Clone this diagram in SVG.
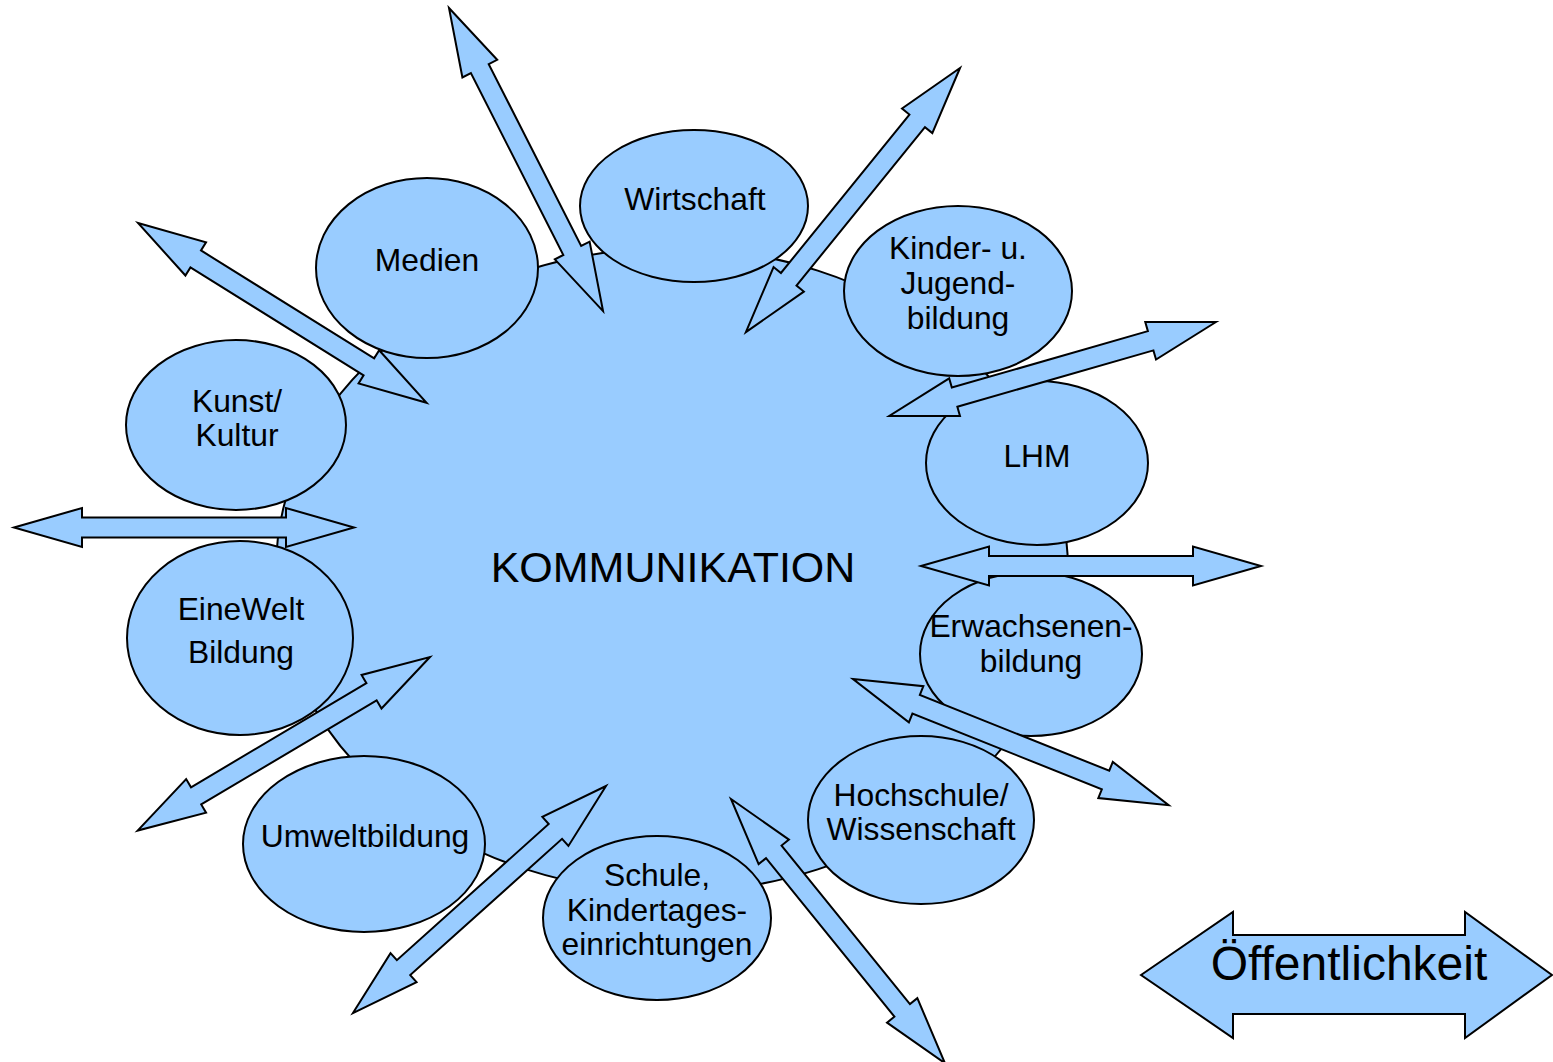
<svg xmlns="http://www.w3.org/2000/svg" xmlns:xlink="http://www.w3.org/1999/xlink" width="1553" height="1062" viewBox="0 0 1553 1062">
<style>
.shape{fill:#99ccff;stroke:#000;stroke-width:2}
.arr{fill:#99ccff;stroke:#000;stroke-width:2;stroke-linejoin:miter}
.lbl{font-family:"Liberation Sans",Arial,sans-serif;font-size:31.8px;fill:#000;text-anchor:middle}
.big{font-family:"Liberation Sans",Arial,sans-serif;font-size:43px;fill:#000;text-anchor:middle}
.pub{font-family:"Liberation Sans",Arial,sans-serif;font-size:48px;fill:#000;text-anchor:middle}
</style>
<defs>
<polygon id="dbl" points="0,0 68,-19.5 68,-10 272,-10 272,-19.5 340,0 272,19.5 272,10 68,10 68,19.5"/>
</defs>
<rect width="1553" height="1062" fill="#fff"/>
<g id="kommunikation">
<ellipse class="shape" cx="672" cy="570" rx="396" ry="322"/>
<text class="big" x="673" y="582">KOMMUNIKATION</text>
</g>
<g id="medien"><ellipse class="shape" cx="427" cy="268" rx="111" ry="90"/><text class="lbl" x="427" y="271">Medien</text></g>
<g id="wirtschaft"><ellipse class="shape" cx="694" cy="206" rx="114" ry="76"/><text class="lbl" x="695" y="210">Wirtschaft</text></g>
<g id="kinder"><ellipse class="shape" cx="958" cy="291" rx="114" ry="85"/><text class="lbl" x="958" y="259">Kinder- u.</text><text class="lbl" x="958" y="294">Jugend-</text><text class="lbl" x="958" y="329">bildung</text></g>
<g id="lhm"><ellipse class="shape" cx="1037" cy="463" rx="111" ry="82"/><text class="lbl" x="1037" y="467">LHM</text></g>
<g id="erwachsenen"><ellipse class="shape" cx="1031" cy="654" rx="111" ry="82"/><text class="lbl" x="1031" y="637">Erwachsenen-</text><text class="lbl" x="1031" y="672">bildung</text></g>
<g id="hochschule"><ellipse class="shape" cx="921" cy="820" rx="113" ry="84"/><text class="lbl" x="921" y="806">Hochschule/</text><text class="lbl" x="921" y="840">Wissenschaft</text></g>
<g id="schule"><ellipse class="shape" cx="657" cy="918" rx="114" ry="82"/><text class="lbl" x="657" y="886">Schule,</text><text class="lbl" x="657" y="921">Kindertages-</text><text class="lbl" x="657" y="955">einrichtungen</text></g>
<g id="umwelt"><ellipse class="shape" cx="364" cy="844" rx="121" ry="88"/><text class="lbl" x="365" y="847">Umweltbildung</text></g>
<g id="einewelt"><ellipse class="shape" cx="240" cy="638" rx="113" ry="97"/><text class="lbl" x="241" y="620">EineWelt</text><text class="lbl" x="241" y="663">Bildung</text></g>
<g id="kunst"><ellipse class="shape" cx="236" cy="425" rx="110" ry="85"/><text class="lbl" x="237" y="412">Kunst/</text><text class="lbl" x="237" y="446">Kultur</text></g>
<g id="connectors">
<use xlink:href="#dbl" class="arr" transform="translate(449,8) rotate(63.06)"/>
<use xlink:href="#dbl" class="arr" transform="translate(138,223) rotate(31.92)"/>
<use xlink:href="#dbl" class="arr" transform="translate(960,68) rotate(129.03)"/>
<use xlink:href="#dbl" class="arr" transform="translate(1216,322) rotate(163.96)"/>
<use xlink:href="#dbl" class="arr" transform="translate(14,527.5)"/>
<use xlink:href="#dbl" class="arr" transform="translate(921,566)"/>
<use xlink:href="#dbl" class="arr" transform="translate(853,679) rotate(21.8)"/>
<use xlink:href="#dbl" class="arr" transform="translate(731,799) rotate(51.0)"/>
<use xlink:href="#dbl" class="arr" transform="translate(606,786) rotate(138.1)"/>
<use xlink:href="#dbl" class="arr" transform="translate(430,657) rotate(149.3)"/>
</g>
<g id="oeffentlichkeit">
<polygon class="arr" points="1141,975 1233,912 1233,935 1465,935 1465,912 1552,975 1465,1038 1465,1014 1233,1014 1233,1038"/>
<text class="pub" x="1349" y="980">Öffentlichkeit</text>
</g>
</svg>
